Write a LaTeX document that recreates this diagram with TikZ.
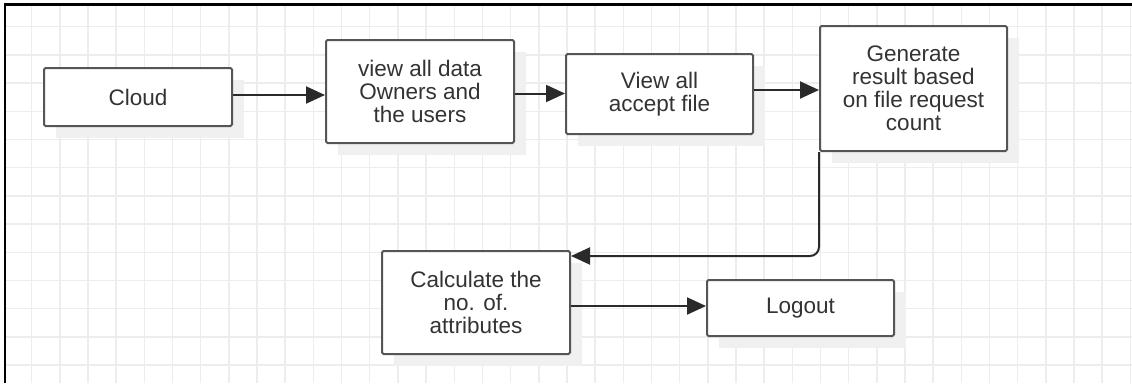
\documentclass[tikz,border=0pt]{standalone}
\usepackage{fontspec}
\setmainfont{Liberation Sans}
\usetikzlibrary{arrows.meta,calc}
\definecolor{gridgray}{HTML}{EDEDED}
\definecolor{shadowgray}{HTML}{F0F0F0}
\definecolor{boxline}{HTML}{555555}
\definecolor{txt}{HTML}{333333}
\definecolor{wire}{HTML}{2A2A2A}
\tikzset{
  flowbox/.style={draw=boxline, line width=2pt, fill=white, rounded corners=1.5pt,
    inner sep=0pt, align=center, text=txt,
    font=\fontsize{22.5}{23}\selectfont},
  boxshadow/.style={fill=shadowgray, draw=none},
  flow/.style={draw=wire, line width=2pt,
    -{Triangle[length=19pt,width=17pt]}}
}
\begin{document}
\begin{tikzpicture}[x=1pt,y=-1pt]
\useasboundingbox (0,0) rectangle (1132,383);
% background grid
\foreach \gx in {0,...,39} {
  \draw[gridgray, line width=1.5pt] ({31.7+28.17*\gx},5) -- ({31.7+28.17*\gx},383);
}
\foreach \gy in {0,...,12} {
  \draw[gridgray, line width=1.5pt] (5,{26.7+28.2*\gy}) -- (1132,{26.7+28.2*\gy});
}
% frame (top and left edges)
\draw[black, line width=2.5pt] (5,383) -- (5,4.5) -- (1132,4.5);
% shadows behind the boxes
\fill[boxshadow] (56,80) rectangle (244,138);
\fill[boxshadow] (338,52) rectangle (526,155);
\fill[boxshadow] (578,66) rectangle (765,146);
\fill[boxshadow] (832,38) rectangle (1019,163);
\fill[boxshadow] (394,263) rectangle (582,366);
\fill[boxshadow] (719,292) rectangle (906,348);
% process boxes
\node[flowbox, minimum width=188pt, minimum height=58pt] (cloud) at (138,97) {Cloud};
\node[flowbox, minimum width=188pt, minimum height=103pt] (owners) at (420,91.5) {view all data\\Owners and\\the users};
\node[flowbox, minimum width=187pt, minimum height=80pt] (accept) at (659.5,94) {View all\\accept file};
\node[flowbox, minimum width=187pt, minimum height=125pt] (result) at (913.5,88.5) {Generate\\result based\\on file request\\count};
\node[flowbox, minimum width=188pt, minimum height=103pt] (calc) at (476,302.5) {Calculate the\\no. of.\\attributes};
\node[flowbox, minimum width=187pt, minimum height=56pt] (logout) at (800.5,308) {Logout};
% connectors
\draw[flow] ([yshift=2pt]cloud.east) -- ([yshift=2pt]cloud.east -| owners.west);
\draw[flow] ([yshift=-2pt]owners.east) -- ([yshift=-2pt]owners.east -| accept.west);
\draw[flow] ([yshift=4pt]accept.east) -- ([yshift=4pt]accept.east -| result.west);
\draw[flow, rounded corners=9pt] (result.south west) |- ([yshift=-6pt]calc.north east);
\draw[flow] ([yshift=-3.5pt]calc.east) -- ([yshift=-3.5pt]calc.east -| logout.west);
\end{tikzpicture}
\end{document}
